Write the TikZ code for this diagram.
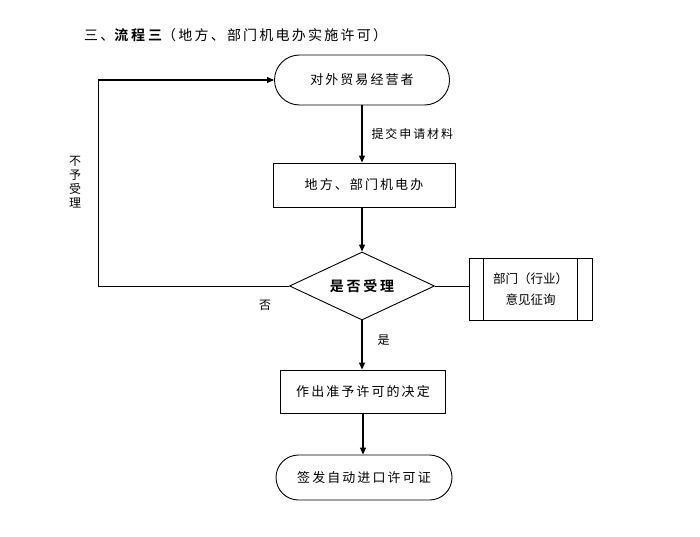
\documentclass[tikz,border=0pt]{standalone}
\usepackage{fontspec}
\setmainfont[LetterSpace=16]{Noto Sans CJK SC}
\newfontfamily\cjkb[LetterSpace=20]{Noto Sans CJK SC Bold}
\newfontfamily\cjkn{Noto Sans CJK SC}
\usetikzlibrary{shapes.geometric,shapes.misc,arrows.meta}
\begin{document}
\begin{tikzpicture}[x=1pt,y=-1pt,
  base/.style={draw,line width=0.9pt,font=\fontsize{13}{15}\selectfont,inner sep=0pt},
  term/.style={base,rounded rectangle},
  proc/.style={base,rectangle},
  dec/.style={base,diamond},
  arr/.style={line width=1.1pt,-{Triangle[length=7pt,width=6pt]}},
  ln/.style={line width=0.9pt},
  lbl/.style={font=\fontsize{12}{14}\selectfont,inner sep=1pt}]
\useasboundingbox (0,0) rectangle (700,537);
\node[anchor=west,font=\fontsize{14}{15}\selectfont,inner sep=0pt] (title) at (84,35) {三、{\cjkb 流程三}（地方、部门机电办实施许可）};
\node[term,minimum width=175pt,minimum height=50pt] (t1) at (362,80) {对外贸易经营者};
\node[proc,minimum width=182pt,minimum height=44pt] (p1) at (364,185) {地方、部门机电办};
\node[dec,minimum width=145pt,minimum height=68pt,aspect=2.13,font=\cjkb\fontsize{14}{15}\selectfont] (d1) at (362,286) {是否受理};
\node[proc,minimum width=123pt,minimum height=62pt,align=center,font=\cjkn\fontsize{12.5}{21}\selectfont] (s1) at (530.5,289) {部门（行业）\\意见征询};
\draw[ln] ([xshift=15pt]s1.north west) -- ([xshift=15pt]s1.south west);
\draw[ln] ([xshift=-15pt]s1.north east) -- ([xshift=-15pt]s1.south east);
\node[proc,minimum width=165pt,minimum height=43pt] (p2) at (363,391.5) {作出准予许可的决定};
\node[term,minimum width=176pt,minimum height=45pt] (t2) at (364,477.5) {签发自动进口许可证};
\coordinate (c1) at (98,286);
\coordinate (c2) at (98,80);
\draw[arr] (t1.south -| 362,0) -- (p1.north -| 362,0) node[lbl,midway,anchor=west,xshift=8pt] (l1) {提交申请材料};
\draw[arr] (p1.south -| 362,0) -- (d1.north);
\draw[arr] (d1.south) -- (p2.north -| 362,0) node[lbl,pos=0.4,anchor=west,xshift=14pt] (l2) {是};
\draw[arr] (p2.south) -- (t2.north -| 363,0);
\draw[ln] (d1.east) -- (s1.west |- d1.east);
\draw[ln] (d1.west) -- (c1) -- (c2);
\draw[arr] (c2) -- (t1.west);
\node[lbl] (l3) at (265,305) {否};
\node[lbl,align=center,font=\cjkn\fontsize{12}{14}\selectfont] (l4) at (75,182) {不\\予\\受\\理};
\end{tikzpicture}
\end{document}
